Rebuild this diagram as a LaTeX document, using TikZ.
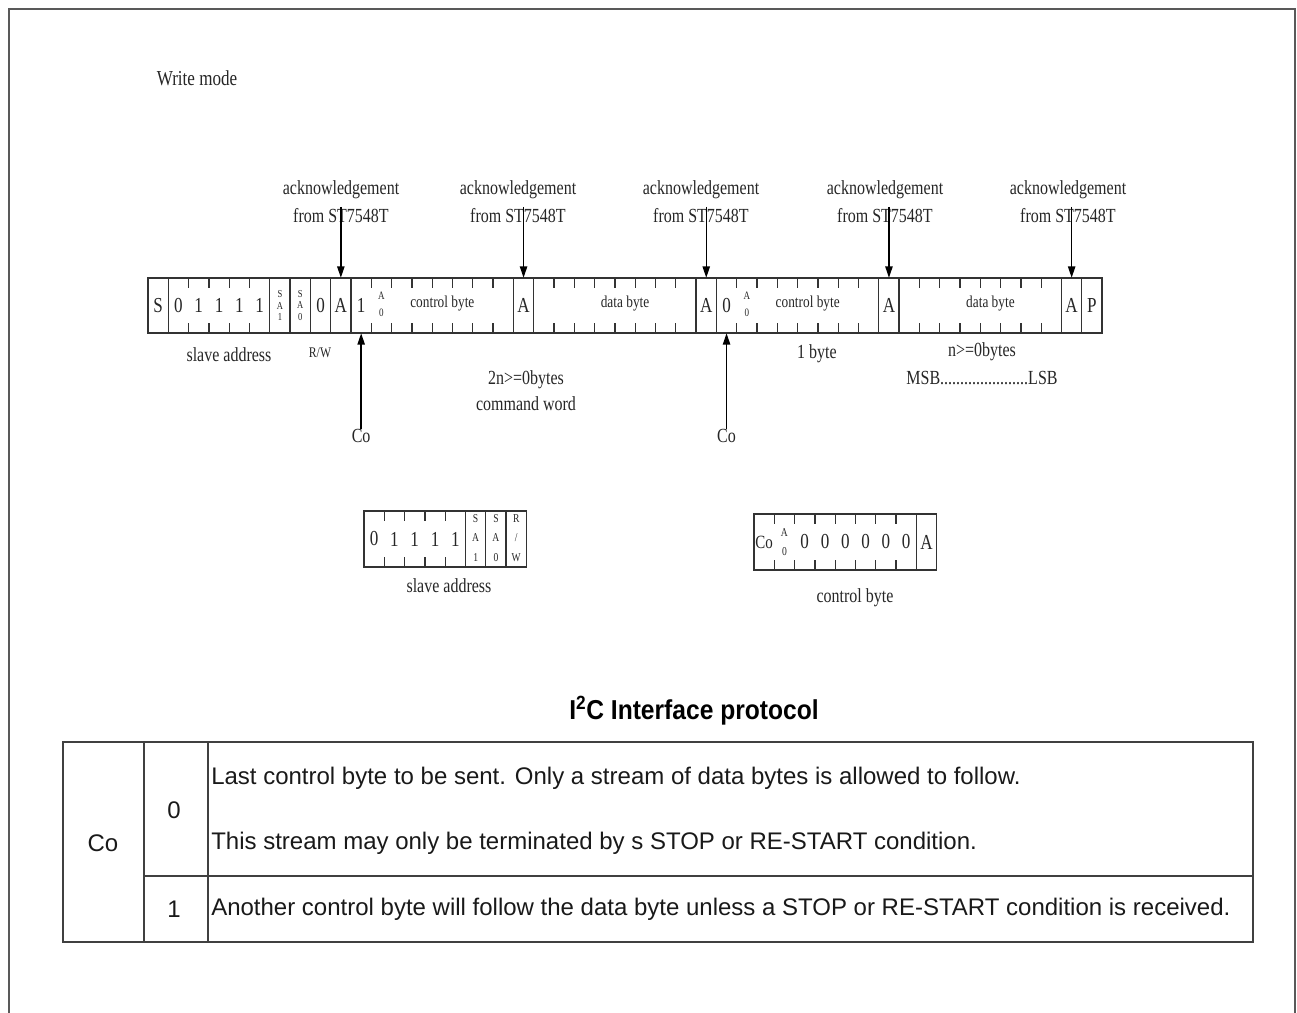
\documentclass[tikz,border=0pt]{standalone}
\usepackage{fontspec}
\setmainfont{Liberation Serif}
\newfontfamily\dserif[FakeStretch=0.8]{Liberation Serif}
\newfontfamily\tsans{Liberation Sans}
\newfontfamily\tsanscond[FakeStretch=0.9]{Liberation Sans}
\usetikzlibrary{arrows.meta}
\begin{document}
\begin{tikzpicture}[x=0.75pt,y=-0.75pt,
  barline/.style={draw=black!80,line width=1pt},
  tickline/.style={draw=black!80,line width=1pt},
  framel/.style={draw=black!65,line width=1.5pt},
  tabline/.style={draw=black!75,line width=1.1pt},
  cellbox/.style={minimum width=15.2pt,minimum height=41.25pt,inner sep=0pt,text=black!85,font=\dserif\fontsize{16}{17}\selectfont},
  stackbox/.style={cellbox,align=center,font=\dserif\fontsize{8}{8.4}\selectfont},
  astack/.style={cellbox,align=center,font=\dserif\fontsize{8.5}{12.5}\selectfont},
  inlbl/.style={inner sep=0pt,text=black!85,font=\dserif\fontsize{12.5}{13}\selectfont},
  ann/.style={inner sep=0pt,text=black!85,align=center,font=\dserif\fontsize{15}{21}\selectfont},
  arr/.style={draw=black,line width=1pt,-{Triangle[length=8.5pt,width=5.5pt]}},
  ttl/.style={inner sep=0pt,font=\tsanscond\bfseries\fontsize{20.5}{22}\selectfont},
  ttext/.style={inner sep=0pt,anchor=west,text=black!90,font=\tsans\fontsize{18}{20}\selectfont},
  tcell/.style={inner sep=0pt,text=black!90,font=\tsans\fontsize{18}{20}\selectfont}
]
\useasboundingbox (0,0) rectangle (1297,1013);
\def\W{20.3}
% outer frame
\draw[framel] (9,1013) -- (9,9) -- (1295,9) -- (1295,1013);

\node[ann,font=\dserif\fontsize{16}{18}\selectfont] (wm) at (197,78) {Write mode};

% ---------------- main bar ----------------
\draw[barline] (148,278) rectangle (1102,333);
\foreach \i in {1,6,7,8,9,10,18,19,27,28,36,37,45,46}
  \draw[barline] ({148+\i*\W},278) -- ({148+\i*\W},333);
\foreach \i in {2,3,4,5,11,12,13,14,15,16,17,20,21,22,23,24,25,26,29,30,31,32,33,34,35,38,39,40,41,42,43,44}
  \draw[tickline] ({148+\i*\W},278) -- ++(0,10) ({148+\i*\W},333) -- ++(0,-10);
\foreach \i/\t in {0/S,1/0,2/1,3/1,4/1,5/1,8/0,9/A,10/1,18/A,27/A,28/0,36/A,45/A,46/P}
  \node[cellbox] (m\i) at ({148+(\i+0.5)*\W},305.5) {\t};
\node[stackbox] (m6) at ({148+6.5*\W},305.5) {S\\A\\1};
\node[stackbox] (m7) at ({148+7.5*\W},305.5) {S\\A\\0};
\node[astack] (m11) at ({148+11.5*\W},304) {A\\0};
\node[astack] (m29) at ({148+29.5*\W},304) {A\\0};
\node[inlbl] (cb1) at ({148+14.5*\W},304) {control byte};
\node[inlbl] (db1) at ({148+23.5*\W},304) {data byte};
\node[inlbl] (cb2) at ({148+32.5*\W},304) {control byte};
\node[inlbl] (db2) at ({148+41.5*\W},304) {data byte};

% acknowledgement arrows
\node[ann] (ack1) at (341,202) {acknowledgement\\from ST7548T};
\node[ann] (ack2) at (518,202) {acknowledgement\\from ST7548T};
\node[ann] (ack3) at (701,202) {acknowledgement\\from ST7548T};
\node[ann] (ack4) at (885,202) {acknowledgement\\from ST7548T};
\node[ann] (ack5) at (1068,202) {acknowledgement\\from ST7548T};
\coordinate (s1) at ({148+9.5*\W},207);
\coordinate (s2) at ({148+18.5*\W},207);
\coordinate (s3) at ({148+27.5*\W},207);
\coordinate (s4) at ({148+36.5*\W},207);
\coordinate (s5) at ({148+45.5*\W},207);
\draw[arr] (s1) -- (m9.north);
\draw[arr] (s2) -- (m18.north);
\draw[arr] (s3) -- (m27.north);
\draw[arr] (s4) -- (m36.north);
\draw[arr] (s5) -- (m45.north);

% Co arrows
\node[ann] (co1) at ({148+10.5*\W},436) {Co};
\node[ann] (co2) at ({148+28.5*\W},436) {Co};
\draw[arr] (co1.north) -- (m10.south);
\draw[arr] (co2.north) -- (m28.south);

% labels below bar
\node[ann] (sal) at (229,355) {slave address};
\node[ann,font=\dserif\fontsize{11}{12}\selectfont] (rwl) at (320,353) {R/W};
\node[ann,font=\dserif\fontsize{15}{19.5}\selectfont] (cwl) at (526,391) {2n>=0bytes\\command word};
\node[ann] (obl) at (817,354) {1 byte};
\node[ann] (nbl) at (982,364) {n>=0bytes\\MSB......................LSB};

% ---------------- slave address box ----------------
\draw[barline] (364,511) rectangle ({364+8*\W},567);
\foreach \i in {5,6,7}
  \draw[barline] ({364+\i*\W},511) -- ({364+\i*\W},567);
\foreach \i in {1,2,3,4}
  \draw[tickline] ({364+\i*\W},511) -- ++(0,10) ({364+\i*\W},567) -- ++(0,-10);
\foreach \i/\t in {0/0,1/1,2/1,3/1,4/1}
  \node[cellbox] (sa\i) at ({364+(\i+0.5)*\W},539) {\t};
\node[stackbox,font=\dserif\fontsize{9}{14.5}\selectfont] (sa5) at ({364+5.5*\W},538) {S\\A\\1};
\node[stackbox,font=\dserif\fontsize{9}{14.5}\selectfont] (sa6) at ({364+6.5*\W},538) {S\\A\\0};
\node[stackbox,font=\dserif\fontsize{9}{14.5}\selectfont] (sa7) at ({364+7.5*\W},538) {R\\/\\W};
\node[ann] (sab) at (449,586) {slave address};

% ---------------- control byte box ----------------
\draw[barline] (754,514) rectangle ({754+9*\W},570);
\draw[barline] ({754+8*\W},514) -- ({754+8*\W},570);
\foreach \i in {1,...,7}
  \draw[tickline] ({754+\i*\W},514) -- ++(0,10) ({754+\i*\W},570) -- ++(0,-10);
\node[cellbox,font=\dserif\fontsize{14}{15}\selectfont] (cc0) at ({754+0.5*\W},542) {Co};
\node[astack,font=\dserif\fontsize{9}{14.5}\selectfont] (cc1) at ({754+1.5*\W},542) {A\\0};
\foreach \i in {2,...,7}
  \node[cellbox] (cc\i) at ({754+(\i+0.5)*\W},542) {0};
\node[cellbox] (cc8) at ({754+8.5*\W},542) {A};
\node[ann] (cbb) at (855,598) {control byte};

% ---------------- table ----------------
\node[ttl] (title) at (694,711) {I\textsuperscript{2}C Interface protocol};
\draw[tabline] (63,742) rectangle (1253,942);
\draw[tabline] (144,742) -- (144,942);
\draw[tabline] (208,742) -- (208,942);
\draw[tabline] (144,876) -- (1253,876);
\node[tcell] (tco) at (103,843) {Co};
\node[tcell] (t0) at (174,810) {0};
\node[tcell] (t1) at (174,909) {1};
\node[ttext] (r1) at (211,778) {Last control byte to be sent. Only a stream of data bytes is allowed to follow.};
\node[ttext] (r2) at (211,843) {This stream may only be terminated by s STOP or RE-START condition.};
\node[ttext] (r3) at (211,909) {Another control byte will follow the data byte unless a STOP or RE-START condition is received.};
\end{tikzpicture}
\end{document}
